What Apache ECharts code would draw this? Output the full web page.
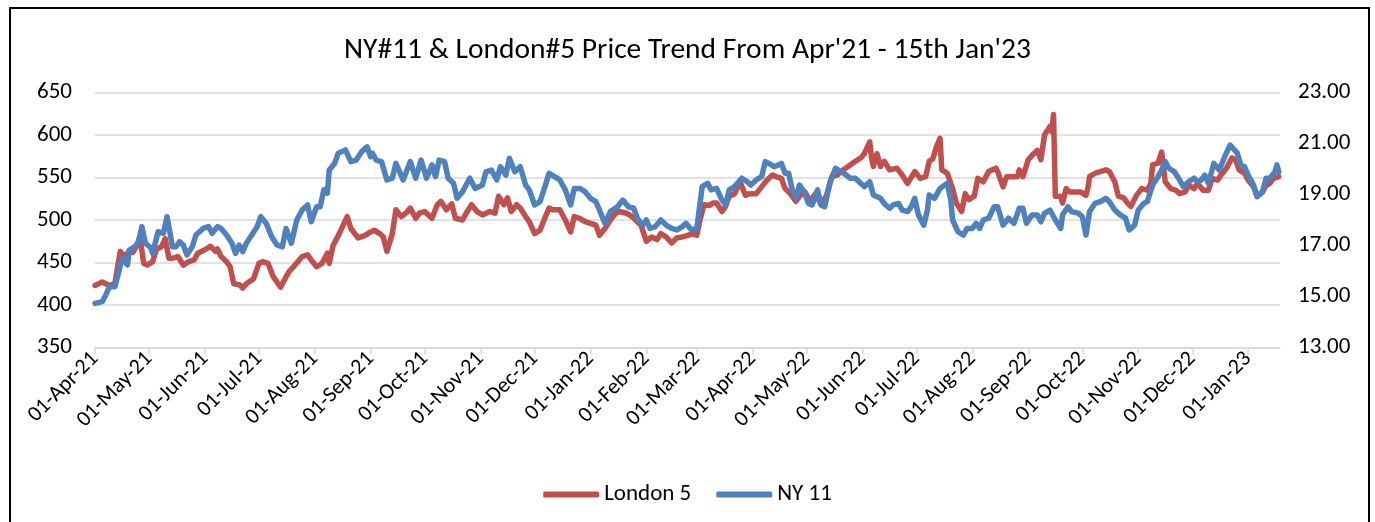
<!DOCTYPE html>
<html>
<head>
<meta charset="utf-8">
<script src="https://cdn.jsdelivr.net/npm/echarts@6/dist/echarts.min.js"></script>
<style>
  html, body { margin: 0; padding: 0; background: #fff; }
  #wrap { position: relative; width: 1375px; height: 522px; overflow: hidden; }
  #frame { position: absolute; left: 9px; top: 7px; width: 1361px; height: 600px; border: 2px solid #000; box-sizing: border-box; }
  #chart { position: absolute; left: 0; top: 0; width: 1375px; height: 522px; }
</style>
</head>
<body>
<div id="wrap">
  <div id="frame"></div>
  <div id="chart"></div>
</div>
<script>
// ---- Data (dates are given as day offsets from the start date) ----
const startDate = [2021, 3, 1]; // 01-Apr-21
const tickLabels = ['01-Apr-21','01-May-21','01-Jun-21','01-Jul-21','01-Aug-21','01-Sep-21','01-Oct-21','01-Nov-21','01-Dec-21','01-Jan-22','01-Feb-22','01-Mar-22','01-Apr-22','01-May-22','01-Jun-22','01-Jul-22','01-Aug-22','01-Sep-22','01-Oct-22','01-Nov-22','01-Dec-22','01-Jan-23'];
const leftTicks = [350, 400, 450, 500, 550, 600, 650];
const rightTicks = [13, 15, 17, 19, 21, 23];

const londonDays = [0,4,8,11,14,16,18,21,23,25,27,29,32,34,37,39,41,43,46,49,52,55,57,61,64,67,68,70,73,75,77,80,82,84,88,91,93,96,99,103,106,108,111,115,118,120,123,126,129,130,132,136,140,142,146,150,153,155,158,160,162,165,167,170,173,175,178,180,183,187,190,192,195,198,200,204,206,209,212,215,216,219,222,224,227,229,231,234,236,239,241,244,247,250,252,254,258,261,264,266,269,272,275,278,280,283,286,289,291,295,298,301,303,306,309,312,314,317,320,323,326,329,332,334,336,338,341,343,345,348,350,352,355,358,361,363,367,370,373,376,378,381,383,386,389,391,394,397,400,403,406,409,412,414,418,422,425,427,430,431,432,434,436,438,441,445,448,451,452,455,458,461,463,465,467,469,470,473,476,478,481,483,485,488,490,493,496,500,501,504,506,509,512,513,515,518,521,523,525,527,530,531,532,533,536,537,539,541,544,547,550,551,552,555,558,561,563,566,568,571,573,575,578,581,584,586,587,590,592,594,597,600,602,605,607,610,612,615,618,620,623,625,628,631,633,635,638,640,643,645,648,650,652,654,657];
const londonValues = [423,427,423,425,463,457,461,462,469,480,449,447,451,465,469,478,455,455,457,447,451,453,461,465,469,463,466,457,451,445,425,424,420,425,431,449,451,449,433,421,433,440,447,457,459,453,445,449,461,449,469,486,504,490,479,482,486,488,484,480,463,484,512,504,509,514,502,508,510,502,518,522,512,519,502,500,508,518,510,506,506,510,508,528,518,526,510,518,514,504,498,484,488,504,514,512,512,500,486,504,502,498,496,494,482,490,500,508,510,508,504,498,494,475,480,477,484,480,473,479,480,482,484,482,502,518,517,520,520,510,516,528,531,545,529,531,531,539,547,553,551,549,537,531,522,528,533,522,531,518,529,551,553,557,563,569,573,578,592,573,563,578,563,569,559,561,553,543,541,557,549,551,569,572,586,596,559,555,537,520,510,531,524,528,549,545,557,561,557,539,551,551,551,559,551,571,578,582,571,600,610,604,624,528,528,520,537,533,533,533,529,537,551,555,557,559,557,545,528,526,520,516,529,537,535,543,565,567,580,545,537,535,531,533,541,537,543,535,535,549,547,553,561,573,571,559,555,547,539,528,533,541,543,549,551];

const nyDays = [0,4,6,8,11,13,15,18,19,22,24,26,28,31,32,35,38,40,43,45,47,49,51,54,56,60,63,65,68,70,73,76,78,80,82,84,87,90,92,95,98,101,104,106,109,112,115,118,120,123,125,127,129,130,133,135,139,142,145,148,151,153,154,156,159,162,165,167,171,175,178,181,184,187,189,191,194,196,199,201,204,208,211,215,217,220,223,225,228,230,233,236,239,241,244,247,250,252,255,258,261,264,266,269,272,275,278,280,283,286,290,293,296,299,301,304,306,308,311,314,317,320,323,326,328,331,334,337,340,342,345,348,350,352,355,359,362,364,367,370,372,374,377,381,383,385,387,389,391,394,396,398,401,403,405,408,411,414,417,419,422,425,427,430,432,433,436,438,441,443,446,448,451,453,455,457,460,462,463,466,469,473,475,476,479,482,484,487,489,491,493,496,499,501,504,507,510,513,515,517,520,523,525,527,530,533,536,537,540,542,546,548,550,552,555,558,561,563,566,569,572,574,577,579,582,584,587,590,592,594,596,599,602,604,607,610,612,614,616,618,621,624,625,627,630,631,634,636,638,640,643,645,648,650,652,655,656,657];
const nyValues = [14.73,14.8,15.06,15.38,15.38,15.91,16.5,16.24,16.82,16.95,17.1,17.74,17.09,16.9,16.69,17.54,17.48,18.13,16.95,16.95,17.15,17.02,16.63,16.95,17.41,17.67,17.74,17.48,17.74,17.67,17.41,17.09,16.69,17.02,16.76,17.09,17.41,17.74,18.13,17.87,17.35,17.02,16.95,17.67,17.09,18.0,18.39,18.59,17.93,18.52,18.52,19.18,19.05,19.96,20.22,20.62,20.75,20.29,20.35,20.68,20.87,20.48,20.62,20.35,20.29,19.57,19.64,20.22,19.57,20.29,19.64,20.35,19.64,20.16,19.7,20.35,20.29,19.64,19.44,18.85,19.11,19.64,19.24,19.37,19.89,19.96,19.57,20.09,19.76,20.42,19.89,20.09,19.37,19.18,18.59,18.72,19.37,19.83,19.7,19.57,19.18,18.59,19.24,19.24,19.11,18.85,18.72,18.39,17.87,18.33,18.52,18.78,18.52,18.46,18.07,17.8,18.0,17.67,17.74,18.0,17.8,17.67,17.61,17.74,17.87,17.61,17.67,19.31,19.44,19.18,19.24,18.78,18.59,19.18,19.31,19.64,19.5,19.37,19.57,19.7,20.29,20.22,20.09,20.22,19.83,19.83,19.18,18.85,19.37,19.05,18.65,18.59,19.18,18.59,18.52,19.5,20.03,19.9,19.76,19.64,19.64,19.44,19.31,19.5,18.98,19.05,18.85,18.65,18.46,18.59,18.65,18.39,18.33,18.52,18.85,18.2,17.8,18.39,18.98,18.85,19.24,19.44,18.78,18.0,17.54,17.41,17.67,17.67,17.87,17.67,18.0,18.07,18.52,18.52,17.8,18.07,17.87,18.46,18.46,17.87,18.2,18.2,17.93,18.26,18.39,18.0,17.67,18.2,18.52,18.33,18.26,18.13,17.41,18.33,18.65,18.72,18.85,18.72,18.39,18.2,18.07,17.61,17.8,18.39,18.65,18.72,19.37,19.7,19.96,20.29,20.03,19.9,19.57,19.31,19.5,19.64,19.5,19.57,19.76,19.44,20.22,19.96,19.96,20.48,20.94,21.0,20.62,20.16,20.09,19.76,19.37,18.91,19.11,19.64,19.64,19.9,20.16,19.89];

// ---- Build ----
const DAY = 86400000;
const t0 = new Date(startDate[0], startDate[1], startDate[2]).getTime();
const toTime = d => t0 + d * DAY;
const monthTicks = tickLabels.map((_, i) => new Date(startDate[0], startDate[1] + i, 1).getTime());
const londonData = londonDays.map((d, i) => [toTime(d), londonValues[i]]);
const nyData = nyDays.map((d, i) => [toTime(d), nyValues[i]]);

const FONT = "Carlito, 'Liberation Sans Narrow', 'Open Sans', sans-serif";
const chart = echarts.init(document.getElementById('chart'), null, { renderer: 'canvas' });
chart.setOption({
  animation: false,
  backgroundColor: 'transparent',
  title: {
    text: "NY#11 & London#5 Price Trend From Apr'21 - 15th Jan'23",
    left: 'center', top: 31,
    textStyle: { fontFamily: FONT, fontSize: 29.5, fontWeight: 'normal', color: '#000' }
  },
  legend: {
    top: 478, left: 'center',
    icon: 'roundRect', itemWidth: 56, itemHeight: 6, itemGap: 25,
    textStyle: { fontFamily: FONT, fontSize: 23, color: '#000' },
    data: ['London 5', 'NY 11']
  },
  grid: { left: 95, right: 95, top: 92.5, bottom: 174.5, containLabel: false },
  xAxis: {
    type: 'value',
    min: t0, max: toTime(657.7),
    axisLine: { show: true, lineStyle: { color: '#D9D9D9', width: 1.5 } },
    axisTick: { show: true, customValues: monthTicks, length: 7, lineStyle: { color: '#D9D9D9', width: 1.5 } },
    axisLabel: {
      customValues: monthTicks, rotate: 45, margin: 8,
      fontFamily: FONT, fontSize: 22, color: '#000',
      formatter: v => {
        let best = 0, bd = Infinity;
        monthTicks.forEach((m, i) => { const dd = Math.abs(m - v); if (dd < bd) { bd = dd; best = i; } });
        return tickLabels[best];
      }
    },
    splitLine: { show: false }
  },
  yAxis: [
    {
      type: 'value', min: leftTicks[0], max: leftTicks[leftTicks.length - 1], interval: 50,
      axisLine: { show: false }, axisTick: { show: false },
      axisLabel: { fontFamily: FONT, fontSize: 23, color: '#000', margin: 23 },
      splitLine: { show: true, lineStyle: { color: '#D9D9D9', width: 1.5 } }
    },
    {
      type: 'value', min: rightTicks[0], max: rightTicks[rightTicks.length - 1], interval: 2,
      axisLine: { show: false }, axisTick: { show: false },
      axisLabel: { fontFamily: FONT, fontSize: 23, color: '#000', margin: 18, formatter: v => v.toFixed(2) },
      splitLine: { show: false }
    }
  ],
  series: [
    {
      name: 'London 5', type: 'line', yAxisIndex: 0, data: londonData,
      showSymbol: false, symbol: 'none',
      lineStyle: { color: '#C0504D', width: 5.5, join: 'round', cap: 'round' },
      itemStyle: { color: '#C0504D' }
    },
    {
      name: 'NY 11', type: 'line', yAxisIndex: 1, data: nyData,
      showSymbol: false, symbol: 'none',
      lineStyle: { color: '#4F81BD', width: 5.5, join: 'round', cap: 'round' },
      itemStyle: { color: '#4F81BD' }
    }
  ]
});
</script>
</body>
</html>
